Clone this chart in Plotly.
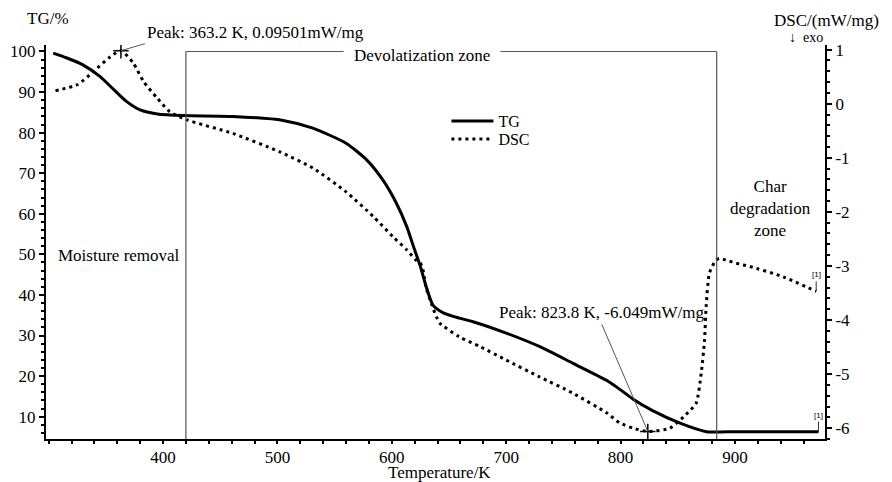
import plotly.graph_objects as go

# ---------------- data ----------------
tg_T = [304, 316, 330, 345, 357, 368, 380, 395, 418, 461, 505, 531, 560, 578, 592,
        604, 613, 619, 625, 630, 636, 645, 659, 671, 700, 729, 758, 788, 800, 811, 828,
        852, 875, 900, 940, 973]
tg = [99.6, 98.4, 96.7, 93.8, 90.6, 87.7, 85.6, 84.6, 84.2, 84.0, 83.0, 81.1, 77.4, 73.3, 68.4,
      62.6, 56.9, 51.9, 47.0, 42.1, 37.5, 35.6, 34.3, 33.4, 30.6, 27.3, 23.2, 18.9, 16.6, 14.3, 11.5,
      8.4, 6.3, 6.3, 6.3, 6.3]

dsc_T = [306, 325, 339, 354, 363.2, 374, 383, 395, 406, 421, 461, 502, 531, 560, 584,
         601, 613, 621, 625, 627, 630, 635, 639, 642, 659, 677, 700, 729, 758, 788,
         799, 811, 823.8, 843, 857, 866, 870.5, 873.4, 874.8, 877.7, 883.5, 886.5, 892, 901,
         913, 942, 971]
dsc = [0.24, 0.35, 0.59, 0.87, 0.98, 0.75, 0.41, 0.10, -0.15, -0.30, -0.55, -0.89, -1.19, -1.63, -2.09,
       -2.46, -2.70, -2.89, -2.95, -3.05, -3.40, -3.72, -3.94, -4.06, -4.31, -4.49, -4.74, -5.05, -5.35, -5.72,
       -5.90, -6.00, -6.06, -6.00, -5.75, -5.54, -4.98, -4.37, -3.75, -3.13, -2.89, -2.86, -2.89, -2.95,
       -3.01, -3.20, -3.47]

peak_T = [363.2, 823.8]
peak_dsc = [0.98, -6.06]
peak_labels = ["Peak: 363.2 K, 0.09501mW/mg", "Peak: 823.8 K, -6.049mW/mg"]

zone_bounds = [420, 884]          # K, vertical zone separators
zone_top = 100                     # TG level of the top bracket line

x_range = [297.7, 978.7]
x_ticks = [400, 500, 600, 700, 800, 900]
tg_range = [4.5, 101.6]
dsc_range = [-6.2, 1.085]
dsc_ticks = [-6, -5, -4, -3, -2, -1, 0, 1]
dsc_ticktext = ["-6", "-5", "-4", "-3", "-2", "-1", "0", "1"]

FONT = "Liberation Serif, Times New Roman, serif"

fig = go.Figure()
fig.add_trace(go.Scatter(x=tg_T, y=tg, name="TG", mode="lines", legend="legend",
                         line=dict(color="black", width=3, shape="spline", smoothing=0.6)))
fig.add_trace(go.Scatter(x=dsc_T, y=dsc, name="DSC", mode="lines", yaxis="y2", legend="legend2",
                         line=dict(color="black", width=3, dash="3px,4px",
                                   shape="spline", smoothing=0.6)))
fig.add_trace(go.Scatter(x=peak_T, y=peak_dsc, mode="markers", yaxis="y2", showlegend=False,
                         marker=dict(symbol="cross-thin", size=11,
                                     line=dict(width=1.5, color="black"))))

line_style = dict(color="#555555", width=1.2)
shapes = []
for b in zone_bounds:
    shapes.append(dict(type="line", xref="x", yref="y", x0=b, x1=b,
                       y0=zone_top, y1=tg_range[0], line=line_style))
shapes.append(dict(type="line", xref="x", yref="y", x0=zone_bounds[0], x1=zone_bounds[1],
                   y0=zone_top, y1=zone_top, line=line_style))

txt = dict(family=FONT, size=17, color="black")
annotations = [
    dict(text="Devolatization zone", x=(zone_bounds[0] + zone_bounds[1]) / 2 - 26, y=zone_top,
         xref="x", yref="y", yshift=-4, showarrow=False, bgcolor="white", borderpad=10, font=txt),
    dict(text="Moisture removal", x=0.0128, y=0.467, xref="paper", yref="paper",
         xanchor="left", yanchor="middle", showarrow=False, font=txt),
    dict(text="Char<br>degradation<br>zone", x=0.930, y=0.584, xref="paper", yref="paper",
         xanchor="center", yanchor="middle", showarrow=False, font=txt),
    dict(text="TG/%", x=-0.027, y=1.0685, xref="paper", yref="paper", xanchor="left",
         yanchor="middle", showarrow=False, font=txt),
    dict(text="DSC/(mW/mg)", x=0.932, y=1.063, xref="paper", yref="paper", xanchor="left",
         yanchor="middle", showarrow=False, font=txt),
    dict(text="↓  exo", x=0.951, y=1.020, xref="paper", yref="paper", xanchor="left",
         yanchor="middle", showarrow=False, font=dict(family=FONT, size=14, color="black")),
    dict(text="Temperature/K", x=0.5045, y=-0.0838, xref="paper", yref="paper",
         xanchor="center", yanchor="middle", showarrow=False, font=txt),
    dict(text=peak_labels[0], x=peak_T[0], y=peak_dsc[0], xref="x", yref="y2",
         showarrow=True, arrowhead=0, arrowwidth=1, arrowcolor="#555555", ax=24, ay=-7,
         xanchor="left", yanchor="bottom", font=txt),
    dict(text=peak_labels[1], x=peak_T[1], y=peak_dsc[1], xref="x", yref="y2",
         showarrow=True, arrowhead=0, arrowwidth=1, arrowcolor="#555555", ax=-46, ay=-107,
         xanchor="center", yanchor="bottom", font=txt),
    dict(text="[1]", x=tg_T[-1], y=tg[-1], xref="x", yref="y", showarrow=True, arrowhead=0,
         arrowwidth=1, arrowcolor="#333", ax=0, ay=-10, yanchor="bottom",
         font=dict(family="Liberation Sans, Arial", size=8, color="black")),
    dict(text="[1]", x=dsc_T[-1], y=dsc[-1], xref="x", yref="y2", showarrow=True, arrowhead=0,
         arrowwidth=1, arrowcolor="#333", ax=0, ay=-10, yanchor="bottom",
         font=dict(family="Liberation Sans, Arial", size=8, color="black")),
]

axis_common = dict(showgrid=False, zeroline=False, showline=True, linewidth=2, linecolor="black",
                   ticks="outside", ticklen=5, tickwidth=1.5, tickcolor="black", automargin=False,
                   tickfont=dict(family=FONT, size=17, color="black"))
x_axis_common = dict(axis_common, ticklen=2)

leg = dict(xanchor="left", yanchor="top", bgcolor="rgba(0,0,0,0)",
           font=dict(family=FONT, size=16, color="black"), itemwidth=42)

fig.update_layout(
    width=892, height=482,
    margin=dict(l=46, r=67, t=45, b=43, autoexpand=False),
    paper_bgcolor="white", plot_bgcolor="white",
    font=dict(family=FONT, size=17, color="black"),
    showlegend=True,
    legend=dict(x=0.514, y=0.850, **leg),
    legend2=dict(x=0.514, y=0.8046, **leg),
    xaxis=dict(range=x_range, tickvals=x_ticks,
               minor=dict(dtick=20, tick0=0, ticks="outside", ticklen=3, tickcolor="black"),
               **x_axis_common),
    yaxis=dict(range=tg_range, dtick=10, tick0=0,
               minor=dict(dtick=2, tick0=0, ticks="outside", ticklen=3, tickcolor="black"),
               **axis_common),
    yaxis2=dict(range=dsc_range, overlaying="y", side="right", tickvals=dsc_ticks,
                ticktext=dsc_ticktext,
                minor=dict(dtick=0.2, tick0=0, ticks="outside", ticklen=3, tickcolor="black"),
                **axis_common),
    shapes=shapes,
    annotations=annotations,
)

fig.write_html("out.html", config={"displayModeBar": False},
               post_script="document.body.style.margin='0';document.body.style.overflow='hidden';")
